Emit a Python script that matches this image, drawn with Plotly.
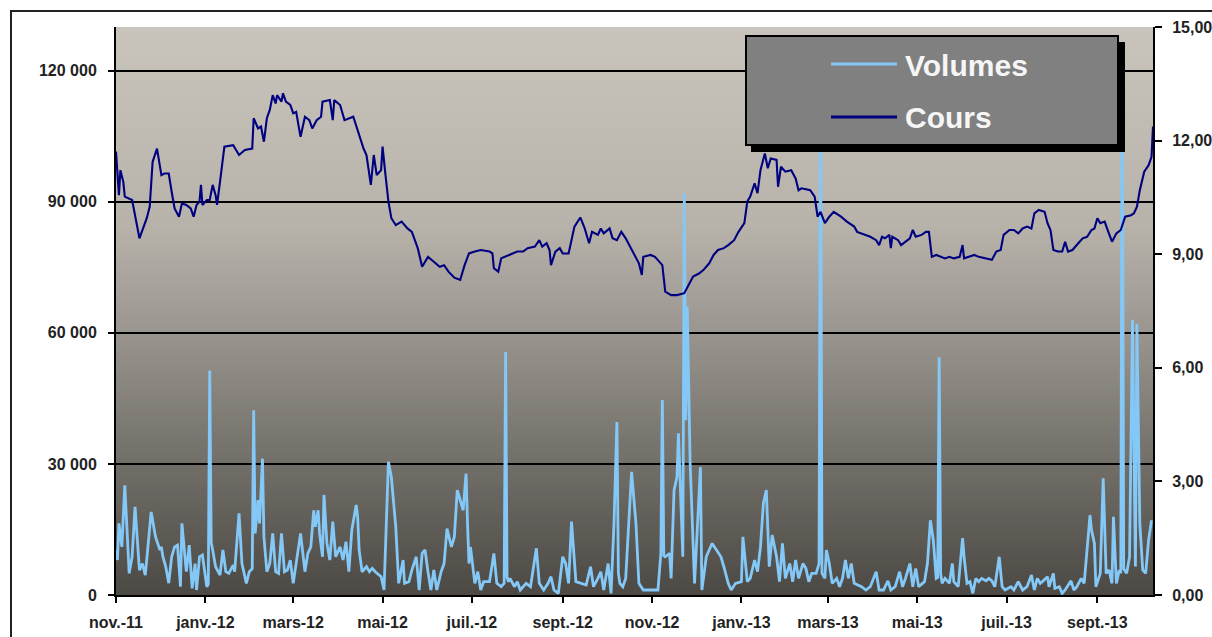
import plotly.graph_objects as go

# ---------------- data ----------------
COURS = [
    ("2011-11-01", 11.71), ("2011-11-03", 10.56), ("2011-11-04", 11.22), ("2011-11-06", 10.91),
    ("2011-11-07", 10.52), ("2011-11-10", 10.47), ("2011-11-12", 10.43), ("2011-11-17", 9.42),
    ("2011-11-22", 9.95), ("2011-11-24", 10.25), ("2011-11-26", 11.44), ("2011-11-29", 11.79),
    ("2011-12-02", 11.09), ("2011-12-04", 11.13), ("2011-12-07", 11.13), ("2011-12-09", 10.65),
    ("2011-12-11", 10.21), ("2011-12-14", 9.99), ("2011-12-16", 10.34), ("2011-12-19", 10.30),
    ("2011-12-22", 10.21), ("2011-12-24", 9.99), ("2011-12-26", 10.30), ("2011-12-28", 10.39),
    ("2011-12-29", 10.83), ("2011-12-30", 10.30),
    ("2012-01-02", 10.43), ("2012-01-04", 10.43), ("2012-01-06", 10.83), ("2012-01-08", 10.56),
    ("2012-01-09", 10.30), ("2012-01-11", 10.91), ("2012-01-14", 11.84), ("2012-01-20", 11.88),
    ("2012-01-24", 11.62), ("2012-01-28", 11.75),
    ("2012-02-02", 11.79), ("2012-02-03", 12.59), ("2012-02-06", 12.32), ("2012-02-08", 12.37),
    ("2012-02-10", 11.97), ("2012-02-12", 12.59), ("2012-02-14", 12.81), ("2012-02-16", 13.20),
    ("2012-02-18", 12.98), ("2012-02-19", 13.20), ("2012-02-22", 13.03), ("2012-02-23", 13.25),
    ("2012-02-25", 13.03), ("2012-02-28", 12.94),
    ("2012-03-01", 12.72), ("2012-03-03", 12.76), ("2012-03-06", 12.10), ("2012-03-09", 12.63),
    ("2012-03-12", 12.54), ("2012-03-14", 12.32), ("2012-03-17", 12.54), ("2012-03-20", 12.63),
    ("2012-03-21", 13.03), ("2012-03-26", 13.07), ("2012-03-28", 12.54), ("2012-03-29", 13.07),
    ("2012-04-02", 12.94), ("2012-04-05", 12.54), ("2012-04-08", 12.59), ("2012-04-11", 12.63),
    ("2012-04-15", 12.15), ("2012-04-18", 11.79), ("2012-04-20", 11.62), ("2012-04-23", 10.83),
    ("2012-04-25", 11.62), ("2012-04-27", 11.09), ("2012-04-30", 11.22),
    ("2012-05-01", 11.84), ("2012-05-03", 11.09), ("2012-05-05", 10.39), ("2012-05-07", 9.95),
    ("2012-05-10", 9.77), ("2012-05-14", 9.86), ("2012-05-18", 9.68), ("2012-05-21", 9.59),
    ("2012-05-25", 9.16), ("2012-05-28", 8.67),
    ("2012-06-01", 8.93), ("2012-06-05", 8.80), ("2012-06-09", 8.67), ("2012-06-12", 8.71),
    ("2012-06-15", 8.54), ("2012-06-19", 8.38), ("2012-06-23", 8.32), ("2012-06-26", 8.71),
    ("2012-06-29", 9.02),
    ("2012-07-03", 9.07), ("2012-07-07", 9.11), ("2012-07-13", 9.07), ("2012-07-15", 9.02),
    ("2012-07-16", 8.63), ("2012-07-19", 8.54), ("2012-07-21", 8.89), ("2012-07-26", 8.98),
    ("2012-07-29", 9.02),
    ("2012-08-01", 9.07), ("2012-08-05", 9.07), ("2012-08-08", 9.16), ("2012-08-13", 9.20),
    ("2012-08-16", 9.37), ("2012-08-18", 9.20), ("2012-08-21", 9.29), ("2012-08-23", 9.11),
    ("2012-08-24", 8.71), ("2012-08-27", 9.07), ("2012-08-30", 9.16),
    ("2012-09-01", 9.02), ("2012-09-05", 9.02), ("2012-09-09", 9.73), ("2012-09-13", 9.97),
    ("2012-09-16", 9.68), ("2012-09-19", 9.29), ("2012-09-21", 9.59), ("2012-09-25", 9.51),
    ("2012-09-27", 9.68), ("2012-09-29", 9.55),
    ("2012-10-03", 9.68), ("2012-10-05", 9.42), ("2012-10-08", 9.37), ("2012-10-11", 9.59),
    ("2012-10-14", 9.42), ("2012-10-17", 9.20), ("2012-10-21", 8.93), ("2012-10-23", 8.76),
    ("2012-10-25", 8.45), ("2012-10-26", 8.93), ("2012-10-31", 8.98),
    ("2012-11-03", 8.93), ("2012-11-08", 8.71), ("2012-11-10", 8.01), ("2012-11-14", 7.92),
    ("2012-11-18", 7.92), ("2012-11-23", 7.97), ("2012-11-26", 8.19), ("2012-11-29", 8.41),
    ("2012-12-03", 8.49), ("2012-12-06", 8.58), ("2012-12-10", 8.76), ("2012-12-13", 8.98),
    ("2012-12-16", 9.11), ("2012-12-20", 9.16), ("2012-12-23", 9.24), ("2012-12-27", 9.37),
    ("2012-12-30", 9.59),
    ("2013-01-03", 9.82), ("2013-01-05", 10.39), ("2013-01-07", 10.52), ("2013-01-10", 10.87),
    ("2013-01-12", 10.61), ("2013-01-14", 11.22), ("2013-01-17", 11.66), ("2013-01-19", 11.27),
    ("2013-01-21", 11.53), ("2013-01-25", 11.49), ("2013-01-26", 10.78), ("2013-01-28", 11.31),
    ("2013-01-31", 11.18),
    ("2013-02-04", 11.22), ("2013-02-07", 11.00), ("2013-02-09", 10.69), ("2013-02-11", 10.74),
    ("2013-02-17", 10.69), ("2013-02-20", 10.52), ("2013-02-22", 9.99), ("2013-02-24", 10.12),
    ("2013-02-27", 9.82),
    ("2013-03-02", 9.99), ("2013-03-05", 10.12), ("2013-03-10", 9.99), ("2013-03-14", 9.86),
    ("2013-03-19", 9.73), ("2013-03-21", 9.59), ("2013-03-26", 9.51), ("2013-03-30", 9.46),
    ("2013-04-03", 9.37), ("2013-04-05", 9.24), ("2013-04-07", 9.46), ("2013-04-09", 9.42),
    ("2013-04-12", 9.51), ("2013-04-13", 9.16), ("2013-04-14", 9.46), ("2013-04-18", 9.37),
    ("2013-04-20", 9.24), ("2013-04-23", 9.33), ("2013-04-26", 9.42), ("2013-04-28", 9.64),
    ("2013-04-30", 9.46),
    ("2013-05-04", 9.51), ("2013-05-07", 9.59), ("2013-05-09", 9.59), ("2013-05-11", 8.93),
    ("2013-05-14", 8.98), ("2013-05-17", 8.93), ("2013-05-20", 8.89), ("2013-05-23", 8.93),
    ("2013-05-26", 8.89), ("2013-05-30", 8.93),
    ("2013-06-01", 9.24), ("2013-06-02", 8.89), ("2013-06-05", 8.93), ("2013-06-09", 8.98),
    ("2013-06-12", 8.93), ("2013-06-17", 8.89), ("2013-06-21", 8.85), ("2013-06-24", 9.07),
    ("2013-06-27", 9.11), ("2013-06-29", 9.51),
    ("2013-07-03", 9.64), ("2013-07-06", 9.64), ("2013-07-09", 9.55), ("2013-07-12", 9.68),
    ("2013-07-15", 9.73), ("2013-07-18", 9.68), ("2013-07-20", 10.08), ("2013-07-23", 10.17),
    ("2013-07-27", 10.12), ("2013-07-29", 9.82), ("2013-07-31", 9.64),
    ("2013-08-02", 9.11), ("2013-08-05", 9.07), ("2013-08-08", 9.07), ("2013-08-10", 9.33),
    ("2013-08-12", 9.07), ("2013-08-15", 9.11), ("2013-08-19", 9.29), ("2013-08-22", 9.42),
    ("2013-08-25", 9.46), ("2013-08-28", 9.64), ("2013-08-30", 9.68),
    ("2013-09-01", 9.95), ("2013-09-03", 9.82), ("2013-09-06", 9.86), ("2013-09-08", 9.64),
    ("2013-09-11", 9.33), ("2013-09-14", 9.55), ("2013-09-17", 9.64), ("2013-09-20", 9.99),
    ("2013-09-24", 10.03), ("2013-09-26", 10.08), ("2013-09-28", 10.25), ("2013-09-30", 10.69),
    ("2013-10-03", 11.18), ("2013-10-06", 11.35), ("2013-10-08", 11.57), ("2013-10-09", 12.37),
]

VOLUMES = [
    ("2011-11-01", 10300), ("2011-11-02", 8000), ("2011-11-03", 16400), ("2011-11-05", 11000),
    ("2011-11-07", 25100), ("2011-11-10", 4950), ("2011-11-12", 8750), ("2011-11-14", 20200),
    ("2011-11-17", 5700), ("2011-11-19", 7200), ("2011-11-21", 4570), ("2011-11-25", 19000),
    ("2011-11-28", 13300),
    ("2011-12-01", 10300), ("2011-12-02", 11000), ("2011-12-03", 8750), ("2011-12-05", 6470),
    ("2011-12-07", 2700), ("2011-12-09", 8750), ("2011-12-11", 11000), ("2011-12-13", 11400),
    ("2011-12-15", 1900), ("2011-12-16", 16400), ("2011-12-19", 5330), ("2011-12-21", 11400),
    ("2011-12-23", 1500), ("2011-12-25", 7200), ("2011-12-26", 1140), ("2011-12-28", 8750),
    ("2011-12-30", 9140),
    ("2012-01-02", 1900), ("2012-01-03", 2500), ("2012-01-04", 51400), ("2012-01-05", 12000),
    ("2012-01-06", 10300), ("2012-01-08", 6470), ("2012-01-11", 4570), ("2012-01-13", 10300),
    ("2012-01-15", 5330), ("2012-01-17", 4950), ("2012-01-20", 6860), ("2012-01-21", 5330),
    ("2012-01-24", 18700), ("2012-01-26", 7200), ("2012-01-29", 2670), ("2012-01-31", 5330),
    ("2012-02-02", 6000), ("2012-02-03", 42300), ("2012-02-04", 14100), ("2012-02-06", 21700),
    ("2012-02-07", 16400), ("2012-02-09", 31200), ("2012-02-10", 13300), ("2012-02-12", 5330),
    ("2012-02-14", 7200), ("2012-02-16", 14100), ("2012-02-18", 5330), ("2012-02-20", 4950),
    ("2012-02-22", 14100), ("2012-02-24", 5330), ("2012-02-26", 5710), ("2012-02-28", 8000),
    ("2012-03-01", 2670), ("2012-03-03", 7200), ("2012-03-06", 14100), ("2012-03-09", 5330),
    ("2012-03-11", 9530), ("2012-03-13", 11000), ("2012-03-15", 19400), ("2012-03-16", 15600),
    ("2012-03-18", 19400), ("2012-03-19", 14100), ("2012-03-21", 8750), ("2012-03-22", 22900),
    ("2012-03-24", 11800), ("2012-03-26", 8000), ("2012-03-28", 16800), ("2012-03-30", 8750),
    ("2012-04-02", 11000), ("2012-04-04", 8000), ("2012-04-06", 12200), ("2012-04-08", 5330),
    ("2012-04-10", 14900), ("2012-04-13", 20600), ("2012-04-14", 17900), ("2012-04-15", 10300),
    ("2012-04-17", 5330), ("2012-04-20", 6470), ("2012-04-22", 5330), ("2012-04-24", 6100),
    ("2012-04-26", 5330), ("2012-04-30", 4190),
    ("2012-05-02", 1140), ("2012-05-05", 30500), ("2012-05-07", 27000), ("2012-05-10", 15600),
    ("2012-05-12", 2670), ("2012-05-15", 8000), ("2012-05-16", 2670), ("2012-05-19", 3050),
    ("2012-05-21", 5710), ("2012-05-24", 8750), ("2012-05-26", 1140), ("2012-05-28", 9530),
    ("2012-05-30", 10300),
    ("2012-06-01", 5330), ("2012-06-03", 1140), ("2012-06-05", 5710), ("2012-06-07", 1140),
    ("2012-06-10", 5330), ("2012-06-12", 7200), ("2012-06-14", 15200), ("2012-06-17", 11000),
    ("2012-06-19", 13300), ("2012-06-21", 24000), ("2012-06-25", 19400), ("2012-06-27", 27800),
    ("2012-06-28", 16400), ("2012-06-29", 7200), ("2012-06-30", 11000),
    ("2012-07-03", 2670), ("2012-07-05", 5330), ("2012-07-07", 1140), ("2012-07-09", 3050),
    ("2012-07-13", 3050), ("2012-07-16", 9500), ("2012-07-18", 2670), ("2012-07-21", 1900),
    ("2012-07-23", 2670), ("2012-07-24", 55600), ("2012-07-25", 4000), ("2012-07-26", 3050),
    ("2012-07-27", 3800), ("2012-07-30", 1900),
    ("2012-08-01", 3050), ("2012-08-03", 1140), ("2012-08-07", 2670), ("2012-08-10", 1900),
    ("2012-08-14", 10700), ("2012-08-16", 2670), ("2012-08-19", 1140), ("2012-08-22", 2670),
    ("2012-08-24", 4190), ("2012-08-26", 1140), ("2012-08-29", 380),
    ("2012-09-01", 8750), ("2012-09-03", 7200), ("2012-09-05", 2670), ("2012-09-07", 16800),
    ("2012-09-10", 3050), ("2012-09-13", 2670), ("2012-09-17", 2290), ("2012-09-20", 6470),
    ("2012-09-22", 1900), ("2012-09-25", 3800), ("2012-09-27", 5330), ("2012-09-29", 1140),
    ("2012-10-02", 7200), ("2012-10-04", 380), ("2012-10-06", 16400), ("2012-10-08", 39600),
    ("2012-10-09", 5000), ("2012-10-10", 2670), ("2012-10-12", 1900), ("2012-10-14", 3800),
    ("2012-10-18", 28200), ("2012-10-21", 16400), ("2012-10-23", 2670), ("2012-10-26", 1140),
    ("2012-10-31", 1140),
    ("2012-11-05", 1140), ("2012-11-07", 9530), ("2012-11-08", 44600), ("2012-11-09", 9000),
    ("2012-11-10", 8750), ("2012-11-13", 9530), ("2012-11-14", 3800), ("2012-11-16", 24000),
    ("2012-11-18", 27000), ("2012-11-19", 37000), ("2012-11-22", 8750), ("2012-11-23", 92000),
    ("2012-11-24", 40000), ("2012-11-25", 66000), ("2012-11-27", 30100), ("2012-11-30", 2670),
    ("2012-12-02", 16400), ("2012-12-04", 29300), ("2012-12-05", 1140), ("2012-12-08", 8750),
    ("2012-12-10", 10300), ("2012-12-12", 11800), ("2012-12-15", 10300), ("2012-12-18", 8750),
    ("2012-12-20", 6470), ("2012-12-23", 2670), ("2012-12-25", 1140), ("2012-12-28", 2670),
    ("2013-01-01", 3050), ("2013-01-02", 13300), ("2013-01-05", 3050), ("2013-01-07", 3800),
    ("2013-01-10", 8000), ("2013-01-12", 5330), ("2013-01-14", 11000), ("2013-01-16", 21000),
    ("2013-01-18", 24000), ("2013-01-20", 6470), ("2013-01-22", 13700), ("2013-01-25", 8750),
    ("2013-01-27", 3050), ("2013-01-29", 11800), ("2013-01-31", 3800),
    ("2013-02-03", 7200), ("2013-02-05", 3050), ("2013-02-07", 8000), ("2013-02-09", 3800),
    ("2013-02-12", 7200), ("2013-02-14", 6100), ("2013-02-16", 3050), ("2013-02-18", 4950),
    ("2013-02-21", 4950), ("2013-02-23", 7200), ("2013-02-24", 120000), ("2013-02-25", 5000),
    ("2013-02-27", 3800), ("2013-02-28", 10300),
    ("2013-03-02", 7200), ("2013-03-04", 2670), ("2013-03-07", 3800), ("2013-03-09", 1900),
    ("2013-03-11", 3800), ("2013-03-13", 8000), ("2013-03-15", 3800), ("2013-03-17", 7200),
    ("2013-03-19", 2670), ("2013-03-24", 1900), ("2013-03-27", 1140), ("2013-03-30", 1900),
    ("2013-04-03", 5330), ("2013-04-05", 1140), ("2013-04-08", 1140), ("2013-04-11", 3240),
    ("2013-04-13", 1140), ("2013-04-16", 1900), ("2013-04-19", 5330), ("2013-04-21", 1900),
    ("2013-04-23", 3800), ("2013-04-26", 7200), ("2013-04-28", 1900), ("2013-04-30", 6100),
    ("2013-05-02", 1900), ("2013-05-06", 3050), ("2013-05-08", 7200), ("2013-05-10", 17100),
    ("2013-05-12", 12600), ("2013-05-14", 3800), ("2013-05-15", 4000), ("2013-05-16", 54400),
    ("2013-05-17", 5000), ("2013-05-18", 2670), ("2013-05-20", 3800), ("2013-05-23", 2670),
    ("2013-05-25", 7200), ("2013-05-26", 3050), ("2013-05-29", 1900),
    ("2013-06-01", 13000), ("2013-06-02", 8750), ("2013-06-04", 2670), ("2013-06-06", 3050),
    ("2013-06-08", 380), ("2013-06-10", 3800), ("2013-06-12", 3050), ("2013-06-14", 3800),
    ("2013-06-17", 3240), ("2013-06-19", 3800), ("2013-06-21", 3240), ("2013-06-23", 1900),
    ("2013-06-26", 8750), ("2013-06-28", 1900), ("2013-06-30", 1140),
    ("2013-07-04", 1900), ("2013-07-06", 1140), ("2013-07-09", 3050), ("2013-07-12", 1140),
    ("2013-07-15", 1900), ("2013-07-18", 4570), ("2013-07-20", 1140), ("2013-07-22", 3800),
    ("2013-07-24", 2670), ("2013-07-26", 3240), ("2013-07-29", 4190), ("2013-07-30", 1900),
    ("2013-08-02", 4950), ("2013-08-03", 1520), ("2013-08-06", 1900), ("2013-08-08", 380),
    ("2013-08-10", 1140), ("2013-08-14", 3240), ("2013-08-16", 1140), ("2013-08-18", 1900),
    ("2013-08-21", 3800), ("2013-08-23", 2670), ("2013-08-27", 18300), ("2013-08-28", 14900),
    ("2013-08-30", 11800), ("2013-08-31", 1900),
    ("2013-09-03", 4950), ("2013-09-05", 26700), ("2013-09-07", 4950), ("2013-09-09", 5710),
    ("2013-09-11", 2670), ("2013-09-12", 17900), ("2013-09-14", 2670), ("2013-09-16", 5710),
    ("2013-09-17", 5000), ("2013-09-18", 125000), ("2013-09-19", 6000), ("2013-09-21", 4950),
    ("2013-09-23", 8750), ("2013-09-25", 63000), ("2013-09-27", 6500), ("2013-09-28", 62000),
    ("2013-09-30", 16400),
    ("2013-10-02", 5710), ("2013-10-04", 4950), ("2013-10-06", 12600), ("2013-10-08", 17100),
]

X_TICK_DATES = ["2011-11-01", "2012-01-01", "2012-03-01", "2012-05-01", "2012-07-01",
                "2012-09-01", "2012-11-01", "2013-01-01", "2013-03-01", "2013-05-01",
                "2013-07-01", "2013-09-01"]
X_TICK_LABELS = ["nov.-11", "janv.-12", "mars-12", "mai-12", "juil.-12", "sept.-12",
                 "nov.-12", "janv.-13", "mars-13", "mai-13", "juil.-13", "sept.-13"]
LEFT_TICKS = [0, 30000, 60000, 90000, 120000]
RIGHT_TICKS = [0, 3, 6, 9, 12, 15]
X_RANGE = ["2011-11-01", "2013-10-09"]
LEFT_RANGE = [0, 130000]
RIGHT_RANGE = [0, 15]
SERIES_NAMES = ["Volumes", "Cours"]

cours_dates = [d for d, _ in COURS]
cours_values = [v for _, v in COURS]
vol_dates = [d for d, _ in VOLUMES]
vol_values = [v for _, v in VOLUMES]

# ---------------- layout geometry ----------------
W, H = 1212, 637
ML, MR, MT, MB = 116, 59, 27, 42
PW, PH = W - ML - MR, H - MT - MB


def px(x):
    return (x - ML) / PW


def py(y):
    return (H - MB - y) / PH


VOL_COLOR = "#84c8f8"
COURS_COLOR = "#000080"
FONT = "Liberation Sans"

fig = go.Figure()
fig.add_trace(go.Scatter(x=vol_dates, y=vol_values, name=SERIES_NAMES[0], mode="lines",
                         line=dict(color=VOL_COLOR, width=2.8), yaxis="y"))
fig.add_trace(go.Scatter(x=cours_dates, y=cours_values, name=SERIES_NAMES[1], mode="lines",
                         line=dict(color=COURS_COLOR, width=2.1), yaxis="y2"))

shapes = []
# gradient background of the plot area
stops = [(0.0, (201, 197, 189)), (0.35, (183, 179, 171)), (0.5, (160, 156, 149)),
         (0.7, (125, 121, 115)), (1.0, (76, 72, 67))]


def grad(t):
    for (t0, c0), (t1, c1) in zip(stops[:-1], stops[1:]):
        if t <= t1:
            f = (t - t0) / (t1 - t0)
            return "rgb(%d,%d,%d)" % tuple(round(a + (b - a) * f) for a, b in zip(c0, c1))
    return "rgb(%d,%d,%d)" % stops[-1][1]


NB = 142
for i in range(NB):
    top = 1 - i / NB
    bot = 1 - (i + 1) / NB
    shapes.append(dict(type="rect", xref="x domain", yref="y domain", x0=0, x1=1,
                       y0=max(0, bot - 0.002), y1=top, fillcolor=grad((i + 0.5) / NB),
                       line=dict(width=0), layer="below"))

# outer frame
shapes.append(dict(type="rect", xref="paper", yref="paper", x0=px(11), x1=px(1218),
                   y0=py(643), y1=py(11), line=dict(color="#222222", width=2),
                   fillcolor="rgba(0,0,0,0)", layer="above"))

# legend box with drop shadow
shapes.append(dict(type="rect", xref="paper", yref="paper", x0=px(751), x1=px(1125),
                   y0=py(152), y1=py(42), fillcolor="black", line=dict(width=0), layer="above"))
shapes.append(dict(type="rect", xref="paper", yref="paper", x0=px(746), x1=px(1118),
                   y0=py(145), y1=py(36), fillcolor="#808080",
                   line=dict(color="black", width=2), layer="above"))
shapes.append(dict(type="line", xref="paper", yref="paper", x0=px(831), x1=px(897),
                   y0=py(64), y1=py(64), line=dict(color=VOL_COLOR, width=3), layer="above"))
shapes.append(dict(type="line", xref="paper", yref="paper", x0=px(831), x1=px(897),
                   y0=py(117), y1=py(117), line=dict(color=COURS_COLOR, width=3), layer="above"))

annotations = [
    dict(xref="paper", yref="paper", x=px(903), y=py(65), xanchor="left", yanchor="middle",
         text=SERIES_NAMES[0], showarrow=False,
         font=dict(family=FONT, size=30, color="#f6f6f6", weight="bold")),
    dict(xref="paper", yref="paper", x=px(903), y=py(118), xanchor="left", yanchor="middle",
         text=SERIES_NAMES[1], showarrow=False,
         font=dict(family=FONT, size=30, color="#f6f6f6", weight="bold")),
]

tickfont = dict(family=FONT, size=16, color="#222222", weight="bold")

fig.update_layout(
    width=W, height=H, autosize=False,
    margin=dict(l=ML, r=MR, t=MT, b=MB, pad=0, autoexpand=False),
    paper_bgcolor="white", plot_bgcolor="#8a8680",
    showlegend=False, separators=", ",
    shapes=shapes, annotations=annotations,
    xaxis=dict(type="date", range=X_RANGE, tickvals=X_TICK_DATES, ticktext=X_TICK_LABELS,
               ticks="outside", ticklen=6, tickwidth=2, tickcolor="black",
               showline=True, linecolor="black", linewidth=2, showgrid=False,
               zeroline=False, tickfont=tickfont, ticklabelstandoff=6, automargin=False),
    yaxis=dict(range=LEFT_RANGE, tickvals=LEFT_TICKS, tickformat=",d",
               ticks="outside", ticklen=6, tickwidth=2, tickcolor="black",
               showline=True, linecolor="black", linewidth=2,
               showgrid=True, gridcolor="black", gridwidth=1.5, zeroline=False,
               tickfont=tickfont, ticklabelstandoff=8, automargin=False),
    yaxis2=dict(range=RIGHT_RANGE, tickvals=RIGHT_TICKS, tickformat=".2f",
                overlaying="y", side="right",
                ticks="outside", ticklen=7, tickwidth=2, tickcolor="black",
                showline=True, linecolor="black", linewidth=2,
                showgrid=False, zeroline=False, tickfont=tickfont, ticklabelstandoff=7,
                automargin=False),
)

fig.write_html("out.html", config={"displayModeBar": False},
               post_script="document.body.style.margin='0';document.body.style.overflow='hidden';")
